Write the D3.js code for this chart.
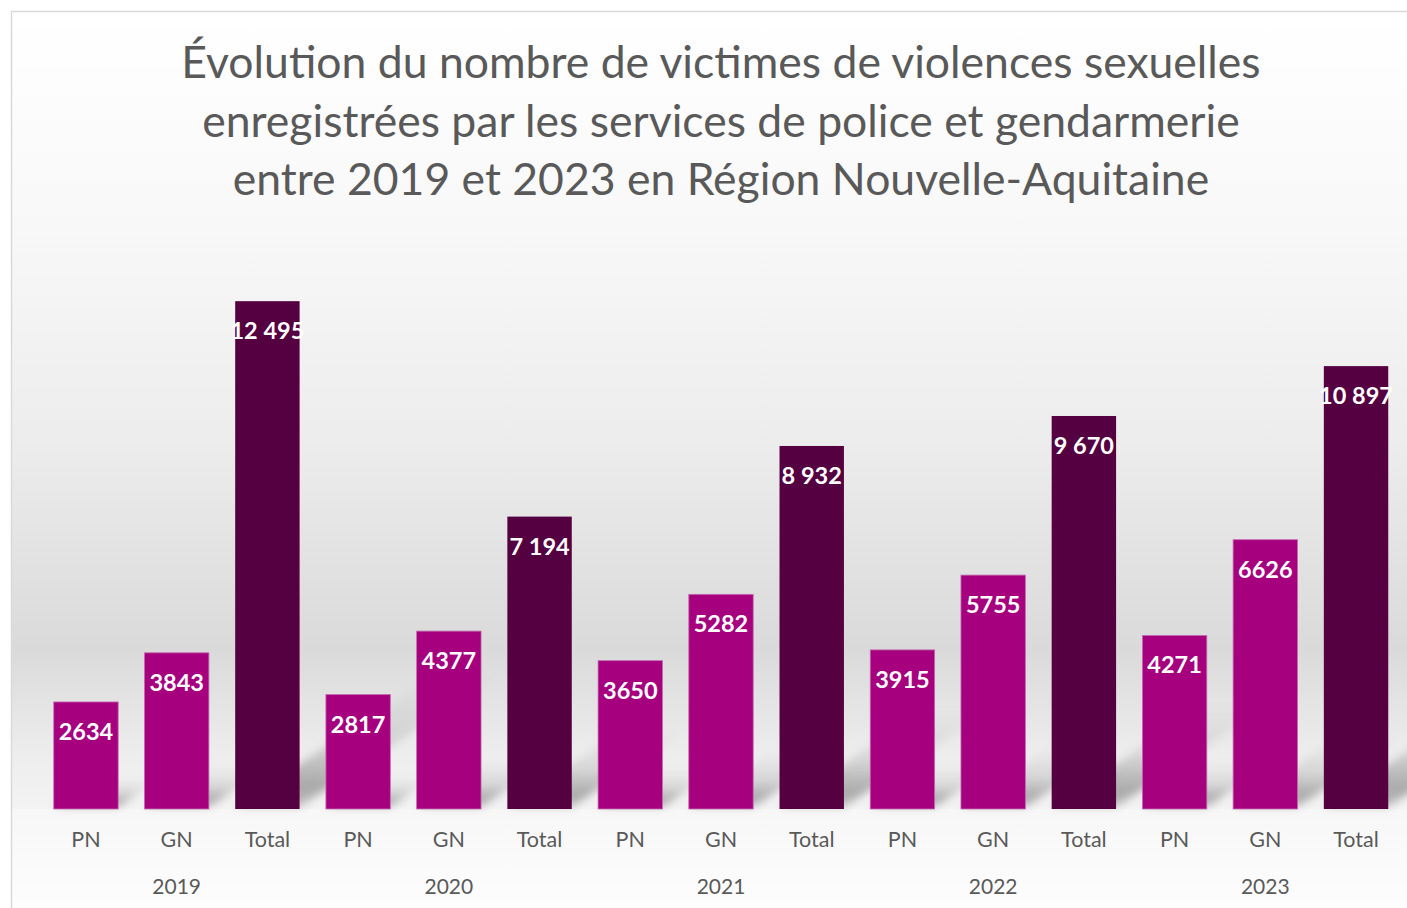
<!DOCTYPE html>
<html>
<head>
<meta charset="utf-8">
<script src="https://cdn.jsdelivr.net/npm/d3@7"></script>
<style>
  html, body { margin: 0; padding: 0; background: #ffffff; }
  svg { display: block; font-family: Lato, "Open Sans", sans-serif; }
</style>
</head>
<body>
<svg id="chart"></svg>
<script>
// Data
const years = ['2019', '2020', '2021', '2022', '2023'];
const kinds = ['PN', 'GN', 'Total'];
const pnValues = [2634, 2817, 3650, 3915, 4271];
const gnValues = [3843, 4377, 5282, 5755, 6626];
const totalValues = [12495, 7194, 8932, 9670, 10897];
const titleLines = [
  'Évolution du nombre de victimes de violences sexuelles',
  'enregistrées par les services de police et gendarmerie',
  'entre 2019 et 2023 en Région Nouvelle-Aquitaine'
];

// flat list of bars built from the arrays above
let bars = [];
years.forEach((yr, i) => {
  bars.push({ key: yr + '-PN', year: yr, kind: 'PN', value: pnValues[i] });
  bars.push({ key: yr + '-GN', year: yr, kind: 'GN', value: gnValues[i] });
  bars.push({ key: yr + '-Total', year: yr, kind: 'Total', value: totalValues[i] });
});

// Canvas
let width = 1407;
let height = 908;
let frame = { left: 11, top: 11 };
let plot = { left: 40.6, right: 1401.4, top: 240, bottom: 809 };

let colorMagenta = '#a6007f';
let colorDark = '#550040';
let textGrey = '#595959';

let svg = d3.select('#chart')
  .attr('width', width)
  .attr('height', height);

let defs = svg.append('defs');

// background gradient of the chart area (down to the floor)
let bg = defs.append('linearGradient')
  .attr('id', 'bgGrad')
  .attr('x1', 0).attr('y1', 0).attr('x2', 0).attr('y2', 1);
bg.append('stop').attr('offset', '0').attr('stop-color', '#ffffff');
bg.append('stop').attr('offset', '0.27').attr('stop-color', '#f8f8f8');
bg.append('stop').attr('offset', '0.55').attr('stop-color', '#ececec');
bg.append('stop').attr('offset', '0.80').attr('stop-color', '#dadada');
bg.append('stop').attr('offset', '0.93').attr('stop-color', '#ededed');
bg.append('stop').attr('offset', '1').attr('stop-color', '#f3f3f3');

let below = defs.append('linearGradient')
  .attr('id', 'belowGrad')
  .attr('x1', 0).attr('y1', 0).attr('x2', 0).attr('y2', 1);
below.append('stop').attr('offset', '0').attr('stop-color', '#f7f7f7');
below.append('stop').attr('offset', '1').attr('stop-color', '#fdfdfd');

// shadow gradient: darker near the floor
let sh = defs.append('linearGradient')
  .attr('id', 'shadowGrad')
  .attr('x1', 0).attr('y1', 0).attr('x2', 0).attr('y2', 1);
sh.append('stop').attr('offset', '0').attr('stop-color', '#000').attr('stop-opacity', 0);
sh.append('stop').attr('offset', '0.5').attr('stop-color', '#000').attr('stop-opacity', 0.1);
sh.append('stop').attr('offset', '0.85').attr('stop-color', '#000').attr('stop-opacity', 0.3);
sh.append('stop').attr('offset', '1').attr('stop-color', '#000').attr('stop-opacity', 0.2);

defs.append('filter')
  .attr('id', 'blur')
  .attr('x', '-20%').attr('y', '-20%').attr('width', '140%').attr('height', '140%')
  .append('feGaussianBlur')
  .attr('stdDeviation', 4);

// chart frame
svg.append('rect')
  .attr('x', frame.left)
  .attr('y', frame.top)
  .attr('width', width)
  .attr('height', plot.bottom - frame.top)
  .attr('fill', 'url(#bgGrad)');

svg.append('rect')
  .attr('x', frame.left)
  .attr('y', plot.bottom)
  .attr('width', width)
  .attr('height', height - plot.bottom)
  .attr('fill', 'url(#belowGrad)');

svg.append('path')
  .attr('d', `M${frame.left + 0.5},${height} V${frame.top + 0.5} H${width}`)
  .attr('fill', 'none')
  .attr('stroke', '#d9d9d9')
  .attr('stroke-width', 1.5);

// Scales
let xScale = d3.scaleBand()
  .domain(bars.map(d => d.key))
  .range([plot.left, plot.right])
  .paddingInner(0.29)
  .paddingOuter(0.145);

let yScale = d3.scaleLinear()
  .domain([0, 14000])
  .range([plot.bottom, plot.top]);

// Title
svg.append('text')
  .attr('x', 721)
  .attr('y', 78)
  .attr('text-anchor', 'middle')
  .attr('fill', textGrey)
  .style('font-size', '44.5px')
  .selectAll('tspan')
  .data(titleLines)
  .enter()
  .append('tspan')
  .attr('x', 721)
  .attr('dy', (d, i) => i === 0 ? 0 : 58.5)
  .text(d => d);

// perspective shadows behind the bars
let shadowGroup = svg.append('g').attr('filter', 'url(#blur)');
shadowGroup.selectAll('path')
  .data(bars)
  .enter()
  .append('path')
  .attr('fill', 'url(#shadowGrad)')
  .attr('d', d => {
    let x0 = xScale(d.key);
    let x1 = x0 + xScale.bandwidth();
    let h = plot.bottom - yScale(d.value);
    let dy = h * 0.26;
    let dx = dy * 1.5;
    let b = plot.bottom - 2;
    return `M${x0},${b} L${x1},${b} L${x1 + dx},${b - dy} L${x0 + dx},${b - dy} Z`;
  });

// Bars
svg.append('g')
  .selectAll('rect')
  .data(bars)
  .enter()
  .append('rect')
  .attr('x', d => xScale(d.key))
  .attr('y', d => yScale(d.value))
  .attr('width', xScale.bandwidth())
  .attr('height', d => yScale(0) - yScale(d.value))
  .attr('fill', d => d.kind === 'Total' ? colorDark : colorMagenta)
  .attr('stroke', d => d.kind === 'Total' ? 'none' : '#c46bb0')
  .attr('stroke-width', 0.8);

// value labels
let fmtSpace = v => d3.format(',')(v).replace(/,/g, ' ');
svg.append('g')
  .selectAll('text')
  .data(bars)
  .enter()
  .append('text')
  .attr('x', d => xScale(d.key) + xScale.bandwidth() / 2)
  .attr('y', d => yScale(d.value) + 38)
  .attr('text-anchor', 'middle')
  .attr('fill', '#ffffff')
  .style('font-size', '23.5px')
  .style('font-weight', 'bold')
  .text(d => d.kind === 'Total' ? fmtSpace(d.value) : String(d.value));

// Axis: categories
let xAxis = d3.axisBottom(xScale)
  .tickSize(0)
  .tickPadding(0)
  .tickFormat(k => k.split('-')[1]);

let gX = svg.append('g')
  .attr('transform', 'translate(0,' + plot.bottom + ')')
  .call(xAxis);
gX.select('.domain').remove();
gX.selectAll('text')
  .attr('y', 38)
  .attr('dy', 0)
  .attr('fill', textGrey)
  .style('font-family', 'Lato, "Open Sans", sans-serif')
  .style('font-size', '21.5px');

// year labels under the middle bar of each group
svg.append('g')
  .selectAll('text')
  .data(years)
  .enter()
  .append('text')
  .attr('x', yr => xScale(yr + '-GN') + xScale.bandwidth() / 2)
  .attr('y', plot.bottom + 85)
  .attr('text-anchor', 'middle')
  .attr('fill', textGrey)
  .style('font-size', '21px')
  .text(yr => yr);
</script>
</body>
</html>
